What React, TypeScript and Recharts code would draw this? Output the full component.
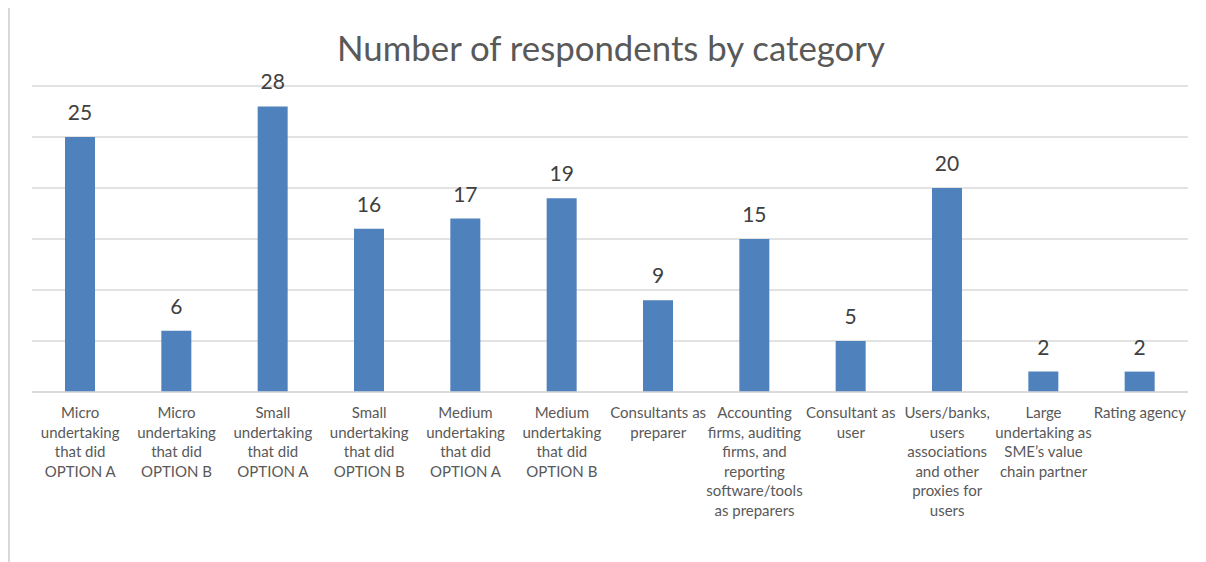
import { BarChart, Bar, XAxis, YAxis, CartesianGrid, LabelList } from 'recharts';

const CATEGORIES = [
  'Micro undertaking that did OPTION A',
  'Micro undertaking that did OPTION B',
  'Small undertaking that did OPTION A',
  'Small undertaking that did OPTION B',
  'Medium undertaking that did OPTION A',
  'Medium undertaking that did OPTION B',
  'Consultants as preparer',
  'Accounting firms, auditing firms, and reporting software/tools as preparers',
  'Consultant as user',
  'Users/banks, users associations and other proxies for users',
  'Large undertaking as SME\u2019s value chain partner',
  'Rating agency',
];

// how each category label wraps under the axis
const LABEL_LINES = [
  ['Micro', 'undertaking', 'that did', 'OPTION A'],
  ['Micro', 'undertaking', 'that did', 'OPTION B'],
  ['Small', 'undertaking', 'that did', 'OPTION A'],
  ['Small', 'undertaking', 'that did', 'OPTION B'],
  ['Medium', 'undertaking', 'that did', 'OPTION A'],
  ['Medium', 'undertaking', 'that did', 'OPTION B'],
  ['Consultants as', 'preparer'],
  ['Accounting', 'firms, auditing', 'firms, and', 'reporting', 'software/tools', 'as preparers'],
  ['Consultant as', 'user'],
  ['Users/banks,', 'users', 'associations', 'and other', 'proxies for', 'users'],
  ['Large', 'undertaking as', 'SME\u2019s value', 'chain partner'],
  ['Rating agency'],
];

const RESPONDENTS = [25, 6, 28, 16, 17, 19, 9, 15, 5, 20, 2, 2];

const Y_TICKS = [0, 5, 10, 15, 20, 25, 30];

const FONT = 'Lato, "Open Sans", sans-serif';

const data = CATEGORIES.map((name, i) => ({ name, value: RESPONDENTS[i] }));

function CategoryTick(props: any) {
  const { x, y, index } = props;
  const lines = LABEL_LINES[index] || [];
  return (
    <text x={x} y={y} textAnchor="middle" fill="#595959" fontSize={15} fontFamily={FONT}>
      {lines.map((line, i) => (
        <tspan key={i} x={x} dy={i === 0 ? 18 : 19.5}>
          {line}
        </tspan>
      ))}
    </text>
  );
}

export default function App() {
  return (
    <div
      style={{
        position: 'relative',
        top: -4,
        width: 1220,
        height: 580,
        border: '2px solid #d9d9d9',
        background: '#fff',
      }}
    >
      <div
        style={{
          position: 'absolute',
          left: 0,
          top: 22,
          width: 1202,
          textAlign: 'center',
          fontFamily: FONT,
          fontSize: 34.8,
          color: '#595959',
          lineHeight: '40px',
        }}
      >
        Number of respondents by category
      </div>
      <BarChart
        width={1200}
        height={560}
        data={data}
        margin={{ top: 80, right: 22, bottom: 24, left: 22 }}
        barCategoryGap={0}
      >
        <CartesianGrid vertical={false} stroke="#d9d9d9" strokeWidth={1.5} />
        <YAxis hide domain={[0, 30]} ticks={Y_TICKS} />
        <XAxis
          dataKey="name"
          interval={0}
          height={150}
          axisLine={{ stroke: '#d9d9d9', strokeWidth: 1.5 }}
          tickLine={false}
          tick={<CategoryTick />}
        />
        <Bar dataKey="value" fill="#4f81bd" barSize={30} isAnimationActive={false}>
          <LabelList
            dataKey="value"
            position="top"
            offset={17}
            fill="#404040"
            fontSize={21}
            fontFamily={FONT}
          />
        </Bar>
      </BarChart>
    </div>
  );
}
